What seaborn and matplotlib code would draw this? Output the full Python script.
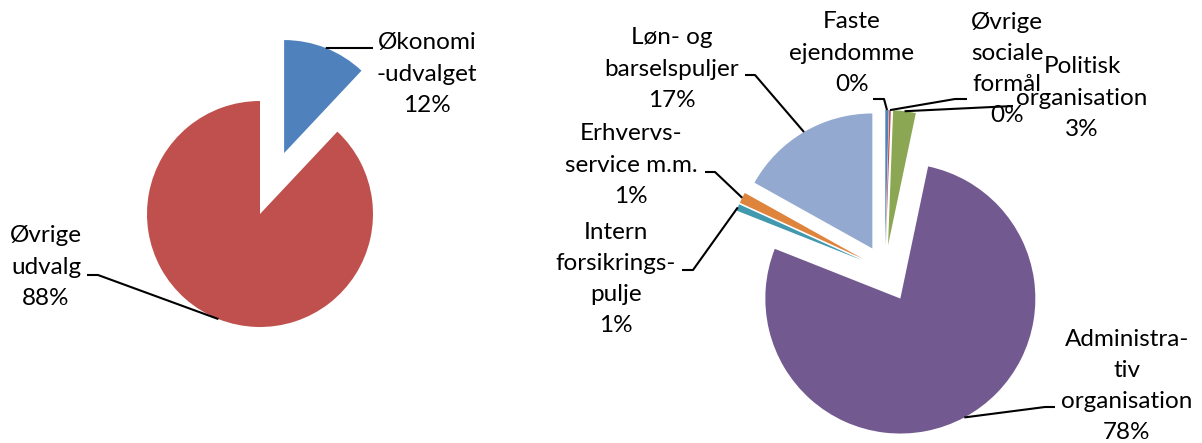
import numpy as np
import matplotlib
matplotlib.use("Agg")
import matplotlib.pyplot as plt
import seaborn as sns

# left pie: share of the committee
left_labels = ["Økonomi\n-udvalget", "Øvrige\nudvalg"]
left_values = [12.0, 88.0]
left_colors = ["#4F81BD", "#C0504D"]

# right pie: breakdown inside Økonomiudvalget
right_labels = [
    "Faste\nejendomme",
    "Øvrige\nsociale\nformål",
    "Politisk\norganisation",
    "Administra-\ntiv\norganisation",
    "Intern\nforsikrings-\npulje",
    "Erhvervs-\nservice m.m.",
    "Løn- og\nbarselspuljer",
]
right_values = [0.4, 0.2, 2.7, 77.7, 0.8, 1.3, 16.9]
right_colors = ["#4F81BD", "#C0504D", "#8BA753", "#72598F", "#4198AF", "#DE843D", "#93A9CF"]

W, H = 1202, 443

sns.set_theme(style="white")
plt.rcParams["font.family"] = ["Lato", "DejaVu Sans"]

fig = plt.figure(figsize=(W / 100, H / 100), dpi=100)
ax = fig.add_axes([0, 0, 1, 1])


def px(x, y):
    # pixel coords (origin top-left) -> data coords
    return x, H - y


# explode is in data units (pixels here), so scale by radius
r_left, r_right = 113, 135
left_explode = [0.58 * r_left, 0.0]
right_explode = [f * r_right for f in [0.185, 0.185, 0.185, 0.24, 0.185, 0.185, 0.185]]

left_wedges, _ = ax.pie(
    left_values, colors=left_colors, explode=left_explode, startangle=90,
    counterclock=False, radius=r_left, center=px(260, 214),
    wedgeprops=dict(linewidth=0),
)
right_wedges, _ = ax.pie(
    right_values, colors=right_colors, explode=right_explode,
    startangle=90, counterclock=False, radius=r_right, center=px(885, 270),
    wedgeprops=dict(linewidth=0),
)

# text block centre and leader points on the text side (pixels)
left_text_pos = [(427, 74), (46, 267)]
left_leaders = [[(373, 48)], [(87, 275), (98, 275)]]
right_text_pos = [(852, 53), (1007, 69), (1082, 98), (1127, 386),
                  (616, 279), (631, 165), (672, 69)]
right_leaders = [
    [(873, 99), (884, 99)],
    [(967, 99), (955, 99)],
    [(1013, 106)],
    [(1055, 407), (1045, 407)],
    [(682, 270), (693, 270)],
    [(705, 172), (715, 172)],
    [(745, 75), (755, 75)],
]


def annotate(wedges, labels, values, text_pos, leaders):
    total = sum(values)
    for w, lab, v, tp, pts in zip(wedges, labels, values, text_pos, leaders):
        mid = np.deg2rad((w.theta1 + w.theta2) / 2)
        cx, cy = w.center
        anchor = (cx + w.r * np.cos(mid), cy + w.r * np.sin(mid))
        path = [px(*p) for p in pts] + [anchor]
        xs, ys = zip(*path)
        ax.plot(xs, ys, color="black", lw=1.5, solid_capstyle="butt")
        pct = round(100 * v / total)
        ax.text(*px(*tp), f"{lab}\n{pct}%", ha="center", va="center",
                multialignment="center", fontsize=17.5, linespacing=1.6,
                color="black")


annotate(left_wedges, left_labels, left_values, left_text_pos, left_leaders)
annotate(right_wedges, right_labels, right_values, right_text_pos, right_leaders)

ax.set_xlim(0, W)
ax.set_ylim(0, H)
ax.set_aspect("equal")
ax.axis("off")

fig.savefig("out.png", dpi=100, facecolor="white")
